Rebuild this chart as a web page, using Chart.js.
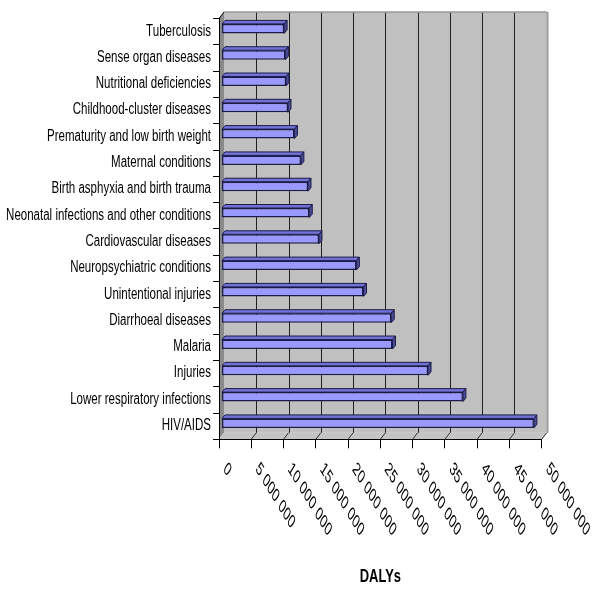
<!DOCTYPE html>
<html>
<head>
<meta charset="utf-8">
<script src="https://cdn.jsdelivr.net/npm/chart.js@4.4.1/dist/chart.umd.min.js"></script>
<style>
  html, body { margin: 0; padding: 0; background: #fff; }
  #wrap { width: 600px; height: 593px; }
</style>
</head>
<body>
<div id="wrap"><canvas id="dalyChart"></canvas></div>
<script>
const causes = [
  'Tuberculosis',
  'Sense organ diseases',
  'Nutritional deficiencies',
  'Childhood-cluster diseases',
  'Prematurity and low birth weight',
  'Maternal conditions',
  'Birth asphyxia and birth trauma',
  'Neonatal infections and other conditions',
  'Cardiovascular diseases',
  'Neuropsychiatric conditions',
  'Unintentional injuries',
  'Diarrhoeal diseases',
  'Malaria',
  'Injuries',
  'Lower respiratory infections',
  'HIV/AIDS'
];
const dalys = [
  9700000, 9900000, 10000000, 10300000, 11300000, 12300000, 13400000, 13600000,
  15100000, 20900000, 22000000, 26300000, 26500000, 32000000, 37400000, 48400000
];
const xTickLabels = ['0', '5 000 000', '10 000 000', '15 000 000', '20 000 000', '25 000 000',
  '30 000 000', '35 000 000', '40 000 000', '45 000 000', '50 000 000'];
const axisTitle = 'DALYs';

// fake 3D look, like the old spreadsheet chart
const DX = 5, DY = 6.5;          // wall depth
const BAR_DX = 3, BAR_DY = 3.5;  // bar depth
const SQUISH = 0.72;             // narrow text
const SQUISH_X = 0.6;            // slanted labels are steeper
const FONT = "'Liberation Sans', Arial, sans-serif";

function poly(ctx, pts) {
  ctx.beginPath();
  ctx.moveTo(pts[0][0], pts[0][1]);
  for (let i = 1; i < pts.length; i++) ctx.lineTo(pts[i][0], pts[i][1]);
  ctx.closePath();
}

const excel3d = {
  id: 'excel3d',
  beforeDraw(chart) {
    const { ctx, chartArea: a, scales: { x } } = chart;
    ctx.save();
    // back wall
    ctx.fillStyle = '#c0c0c0';
    ctx.fillRect(a.left + DX, a.top - DY, a.right - a.left, a.bottom - a.top);
    // side wall
    ctx.fillStyle = '#8a8a8a';
    poly(ctx, [[a.left, a.top], [a.left + DX, a.top - DY], [a.left + DX, a.bottom - DY], [a.left, a.bottom]]);
    ctx.fill();
    // floor
    ctx.fillStyle = '#c4c4c4';
    poly(ctx, [[a.left, a.bottom], [a.right, a.bottom], [a.right + DX, a.bottom - DY], [a.left + DX, a.bottom - DY]]);
    ctx.fill();

    // gridlines on wall and floor
    x.ticks.forEach(t => {
      const px = x.getPixelForValue(t.value);
      if (t.value === 0) return;
      const last = t.value === x.max;
      ctx.strokeStyle = last ? '#9a9a9a' : '#202020';
      ctx.lineWidth = last ? 2 : 1;
      ctx.beginPath();
      ctx.moveTo(Math.round(px + DX) + 0.5, a.top - DY);
      ctx.lineTo(Math.round(px + DX) + 0.5, a.bottom - DY);
      ctx.stroke();
      ctx.strokeStyle = '#303030';
      ctx.lineWidth = 1;
      ctx.beginPath();
      ctx.moveTo(px, a.bottom);
      ctx.lineTo(px + DX, a.bottom - DY);
      ctx.stroke();
    });
    // wall top edge
    ctx.strokeStyle = '#9a9a9a';
    ctx.lineWidth = 1.5;
    ctx.beginPath();
    ctx.moveTo(a.left + DX, a.top - DY);
    ctx.lineTo(a.right + DX, a.top - DY);
    ctx.stroke();
    ctx.strokeStyle = '#000';
    ctx.lineWidth = 1;
    ctx.beginPath();
    ctx.moveTo(a.left, a.top);
    ctx.lineTo(a.left + DX, a.top - DY);
    ctx.stroke();
    ctx.restore();
  },
  beforeDatasetsDraw(chart) {
    chart.ctx.save();
    chart.ctx.translate(2.5, -3);
  },
  afterDatasetsDraw(chart) {
    const ctx = chart.ctx;
    chart.getDatasetMeta(0).data.forEach(el => {
      const { x, y, base, height } = el.getProps(['x', 'y', 'base', 'height'], true);
      const top = y - height / 2, bottom = y + height / 2;
      ctx.strokeStyle = '#1c1c4a';
      ctx.lineWidth = 1;
      ctx.lineJoin = 'round';
      // top face
      ctx.fillStyle = '#7272d6';
      poly(ctx, [[base, top], [x, top], [x + BAR_DX, top - BAR_DY], [base + BAR_DX, top - BAR_DY]]);
      ctx.fill();
      ctx.stroke();
      // end face
      ctx.fillStyle = '#4a4a96';
      poly(ctx, [[x, top], [x + BAR_DX, top - BAR_DY], [x + BAR_DX, bottom - BAR_DY], [x, bottom]]);
      ctx.fill();
      ctx.stroke();
    });
    ctx.restore();
  },
  afterDraw(chart) {
    const { ctx, chartArea: a, scales: { x, y } } = chart;
    ctx.save();
    ctx.fillStyle = '#000';

    // category labels
    ctx.font = '16px ' + FONT;
    ctx.textAlign = 'right';
    ctx.textBaseline = 'middle';
    causes.forEach((c, i) => {
      ctx.save();
      ctx.translate(a.left - 8, y.getPixelForValue(i) - 0.5);
      ctx.scale(SQUISH, 1);
      ctx.fillText(c, 0, 0);
      ctx.restore();
    });

    // slanted value labels
    ctx.font = '19px ' + FONT;
    ctx.textAlign = 'left';
    ctx.textBaseline = 'top';
    x.ticks.forEach((t, i) => {
      ctx.save();
      ctx.translate(x.getPixelForValue(t.value) + 10, a.bottom + 20);
      ctx.scale(SQUISH_X, 1);
      ctx.rotate(Math.PI / 4);
      ctx.fillText(xTickLabels[i], 0, 0);
      ctx.restore();
    });

    // axis title
    ctx.font = 'bold 18px ' + FONT;
    ctx.textAlign = 'center';
    ctx.textBaseline = 'alphabetic';
    ctx.translate((a.left + a.right) / 2, 582);
    ctx.scale(SQUISH, 1);
    ctx.fillText(axisTitle, 0, 0);
    ctx.restore();
  }
};

new Chart(document.getElementById('dalyChart'), {
  type: 'bar',
  data: {
    labels: causes,
    datasets: [{
      data: dalys,
      backgroundColor: '#9999ff',
      borderColor: '#1c1c4a',
      borderWidth: 1.5,
      borderSkipped: false,
      barPercentage: 0.36,
      categoryPercentage: 1,
      clip: false
    }]
  },
  options: {
    indexAxis: 'y',
    responsive: true,
    maintainAspectRatio: false,
    animation: false,
    layout: { padding: { top: 18.5, right: 58.3, left: 0, bottom: 0 } },
    plugins: {
      legend: { display: false },
      tooltip: { enabled: false }
    },
    scales: {
      x: {
        type: 'linear',
        min: 0,
        max: 50000000,
        ticks: { display: false, stepSize: 5000000 },
        grid: { drawOnChartArea: false, drawTicks: true, tickLength: 9, color: '#000' },
        border: { display: true, color: '#000', width: 1 },
        afterFit: s => { s.height = 153.7; }
      },
      y: {
        type: 'category',
        ticks: { display: false },
        grid: { drawOnChartArea: false, drawTicks: true, tickLength: 6, color: '#000', offset: true },
        border: { display: true, color: '#000', width: 1 },
        afterFit: s => { s.width = 219; }
      }
    }
  },
  plugins: [excel3d]
});
</script>
</body>
</html>
